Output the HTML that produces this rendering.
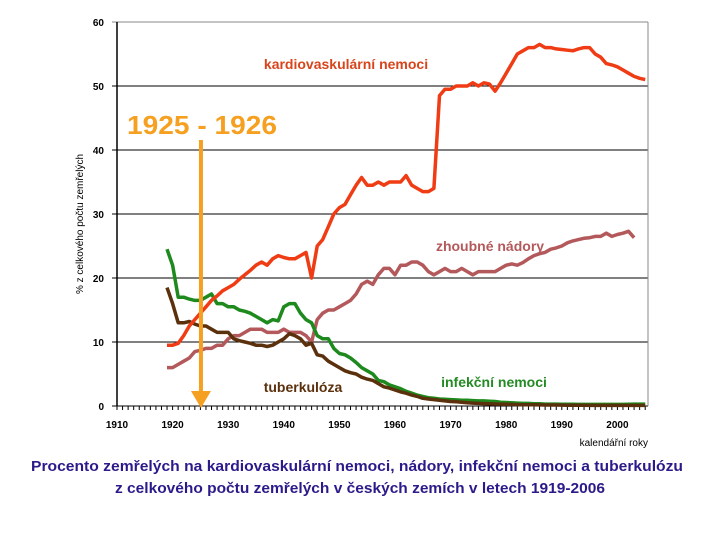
<!DOCTYPE html>
<html><head><meta charset="utf-8"><style>
html,body{margin:0;padding:0;background:#fff;}
svg{display:block;font-family:"Liberation Sans",sans-serif;}
</style></head><body>
<svg id="chart" width="720" height="540" viewBox="0 0 720 540">
<g id="grid"></g>
<g id="axes"></g>
<g id="series"></g>
<g id="ann">
<text x="346" y="69" text-anchor="middle" font-size="14" font-weight="bold" fill="#d8441c">kardiovaskulární nemoci</text>
<text x="490" y="251" text-anchor="middle" font-size="14" font-weight="bold" fill="#b4595b">zhoubné nádory</text>
<text x="494" y="387" text-anchor="middle" font-size="14" font-weight="bold" fill="#248a24">infekční nemoci</text>
<text x="303" y="392" text-anchor="middle" font-size="14" font-weight="bold" fill="#5b300c">tuberkulóza</text>
<text x="127" y="134" font-size="26" font-weight="bold" fill="#f5a020" textLength="150" lengthAdjust="spacingAndGlyphs">1925 - 1926</text>
<text transform="translate(83,224) rotate(-90)" text-anchor="middle" font-size="10" fill="#000">% z celkového počtu zemřelých</text>
<text x="648" y="446" text-anchor="end" font-size="10" fill="#000">kalendářní roky</text>
<text x="357" y="471" text-anchor="middle" font-size="14.5" font-weight="bold" fill="#2a1a8a" textLength="652" lengthAdjust="spacingAndGlyphs">Procento zemřelých na kardiovaskulární nemoci, nádory, infekční nemoci a tuberkulózu</text>
<text x="360" y="493" text-anchor="middle" font-size="14.5" font-weight="bold" fill="#2a1a8a" textLength="490" lengthAdjust="spacingAndGlyphs">z celkového počtu zemřelých v českých zemích v letech 1919-2006</text>
</g>
</svg>
<script>
const years = [];
for (let y = 1919; y <= 2005; y++) years.push(y);
const cardio = [9.5,9.5,9.8,11,12.5,13.5,14.5,15.5,16.5,17.2,18,18.5,19,19.8,20.5,21.2,22,22.5,22,23,23.5,23.2,23,23,23.5,24,20,25,26,28,30,31,31.5,33,34.5,35.7,34.5,34.5,35,34.5,35,35,35,36,34.5,34,33.5,33.5,34,48.5,49.5,49.5,50,50,50,50.5,50,50.5,50.3,49.2,50.5,52,53.5,55,55.5,56,56,56.5,56,56,55.8,55.7,55.6,55.5,55.8,56,56,55,54.5,53.5,53.3,53,52.5,52,51.5,51.2,51];
const cancer = [6,6,6.5,7,7.5,8.5,8.7,9,9,9.5,9.5,10.5,11,11,11.5,12,12,12,11.5,11.5,11.5,12,11.5,11.5,11.5,11,10,13.5,14.5,15,15,15.5,16,16.5,17.5,19,19.5,19,20.5,21.5,21.5,20.5,22,22,22.5,22.5,22,21,20.5,21,21.5,21,21,21.5,21,20.5,21,21,21,21,21.5,22,22.2,22,22.4,23,23.5,23.8,24,24.5,24.7,25,25.5,25.8,26,26.2,26.3,26.5,26.5,27,26.5,26.8,27,27.3,26.3];
const infectious = [24.5,22,17,17,16.7,16.5,16.5,17,17.5,16,16,15.5,15.5,15,14.8,14.5,14,13.5,13,13.5,13.3,15.5,16,16,14.5,13.5,13,11,10.5,10.5,9,8.2,8,7.5,6.8,6,5.5,5,4,3.8,3.3,3,2.7,2.3,2,1.7,1.5,1.3,1.2,1.1,1.05,1,0.95,0.9,0.9,0.85,0.8,0.8,0.75,0.7,0.6,0.55,0.5,0.45,0.4,0.4,0.35,0.35,0.3,0.3,0.3,0.28,0.27,0.26,0.25,0.25,0.25,0.25,0.25,0.25,0.25,0.25,0.25,0.28,0.3,0.3,0.3];
const tuberculosis = [18.5,16,13,13,13.2,12.8,12.5,12.5,12,11.5,11.5,11.5,10.5,10.2,10,9.8,9.5,9.5,9.3,9.5,10,10.5,11.3,11,10.5,9.5,9.8,8,7.8,7,6.5,6,5.5,5.2,5,4.5,4.2,4,3.5,3,2.8,2.5,2.2,2,1.7,1.5,1.2,1.1,1,0.9,0.8,0.7,0.65,0.6,0.5,0.45,0.4,0.38,0.35,0.32,0.3,0.28,0.25,0.22,0.2,0.2,0.18,0.17,0.16,0.15,0.15,0.14,0.13,0.12,0.12,0.11,0.1,0.1,0.1,0.1,0.1,0.1,0.1,0.1,0.1,0.1,0.1];
const yTicks = [0,10,20,30,40,50,60];
const xTicks = [1910,1920,1930,1940,1950,1960,1970,1980,1990,2000];

const X0 = 117, XS = 5.56, Y0 = 406, YS = 6.4;
const xs = yr => X0 + XS * (yr - 1910);
const ys = v => Y0 - YS * v;
const NS = 'http://www.w3.org/2000/svg';
function mk(tag, parent, attrs) {
  const e = document.createElementNS(NS, tag);
  for (const k in attrs) e.setAttribute(k, attrs[k]);
  parent.appendChild(e);
  return e;
}
const grid = document.getElementById('grid'), axes = document.getElementById('axes'), series = document.getElementById('series');
yTicks.forEach(t => {
  const l = mk('line', grid, {x1: X0 - 5, x2: 648, y1: ys(t), y2: ys(t), stroke: t === 60 ? '#888' : '#000', 'stroke-width': 1});
  
  
  const tx = mk('text', axes, {x: 104, y: ys(t) + 4, 'text-anchor': 'end', 'font-size': 10, 'font-weight': 'bold'});
  tx.textContent = t;
  
  
});
const rb = mk('line', axes, {x1: 648, x2: 648, y1: ys(60), y2: Y0, stroke: '#888', 'stroke-width': 1});


const ya = mk('line', axes, {x1: X0, x2: X0, y1: ys(60), y2: Y0, stroke: '#000', 'stroke-width': 1.5});


for (let yr = 1910; yr <= 2005; yr++) {
  const tk = mk('line', axes, {x1: xs(yr), x2: xs(yr), y1: Y0, y2: Y0 + 4, stroke: '#000', 'stroke-width': 1});
  
  
}
xTicks.forEach(t => {
  const tx = mk('text', axes, {x: xs(t), y: 428, 'text-anchor': 'middle', 'font-size': 10, 'font-weight': 'bold'});
  tx.textContent = t;
  
  
});
function drawLine(vals, color, name) {
  const d = vals.map((v, i) => (i ? 'L' : 'M') + xs(years[i]).toFixed(1) + ',' + ys(v).toFixed(1)).join(' ');
  const p = mk('path', series, {d: d, fill: 'none', stroke: color, 'stroke-width': 3.5, 'stroke-linejoin': 'round'});
  
  
}
drawLine(cancer, '#b4595b', 'cancer-line');
drawLine(infectious, '#1e8a1e', 'infectious-line');
drawLine(tuberculosis, '#5b300c', 'tuberculosis-line');
drawLine(cardio, '#f03c14', 'cardio-line');
const ax = xs(1925.1);
const arrowLine = mk('line', series, {x1: ax, x2: ax, y1: 140, y2: 392, stroke: '#f5a020', 'stroke-width': 4});


const head = mk('polygon', series, {points: (ax-10)+',391 '+(ax+10)+',391 '+ax+',408', fill: '#f5a020'});


</script>
</body></html>
